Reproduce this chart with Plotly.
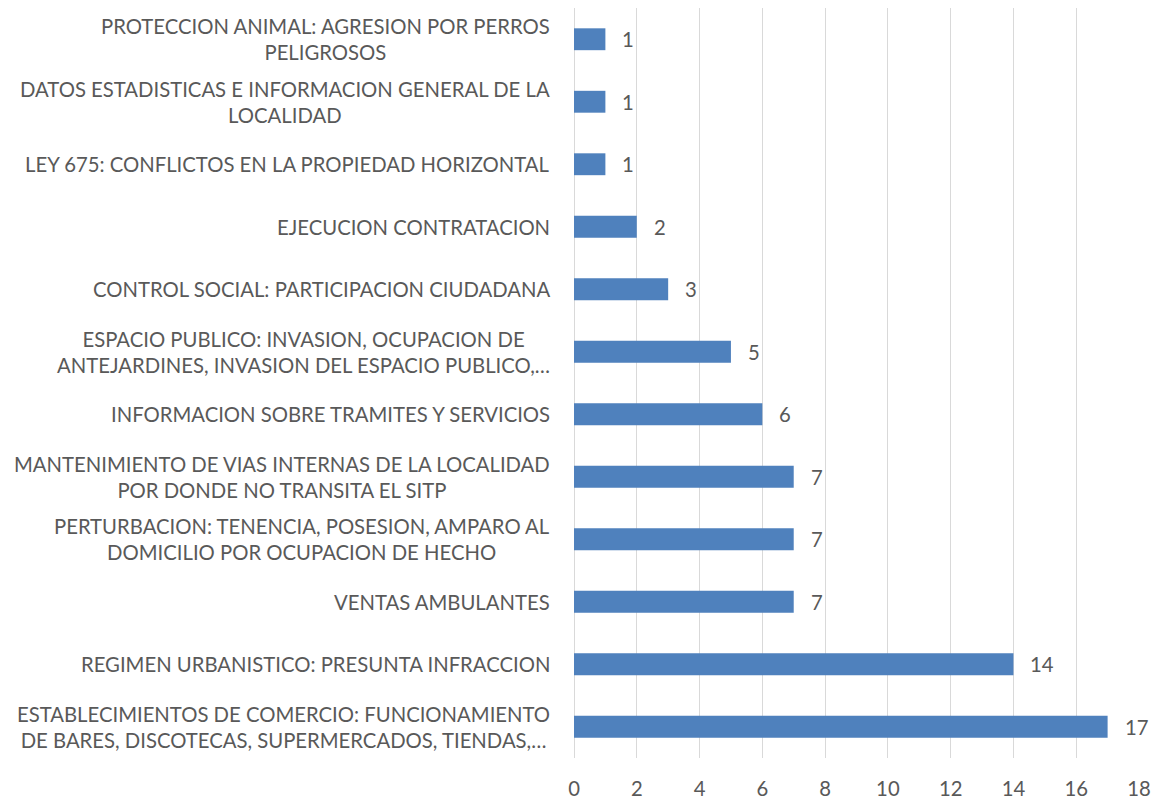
import plotly.graph_objects as go

categories = [
    "ESTABLECIMIENTOS DE COMERCIO: FUNCIONAMIENTO<br>DE BARES, DISCOTECAS, SUPERMERCADOS, TIENDAS,…",
    "REGIMEN URBANISTICO: PRESUNTA INFRACCION",
    "VENTAS AMBULANTES",
    "PERTURBACION: TENENCIA, POSESION, AMPARO AL<br>DOMICILIO POR OCUPACION DE HECHO",
    "MANTENIMIENTO DE VIAS INTERNAS DE LA LOCALIDAD<br>POR DONDE NO TRANSITA EL SITP",
    "INFORMACION SOBRE TRAMITES Y SERVICIOS",
    "ESPACIO PUBLICO: INVASION, OCUPACION DE<br>ANTEJARDINES, INVASION DEL ESPACIO PUBLICO,…",
    "CONTROL SOCIAL: PARTICIPACION CIUDADANA",
    "EJECUCION CONTRATACION",
    "LEY 675: CONFLICTOS EN LA PROPIEDAD HORIZONTAL",
    "DATOS ESTADISTICAS E INFORMACION GENERAL DE LA<br>LOCALIDAD",
    "PROTECCION ANIMAL: AGRESION POR PERROS<br>PELIGROSOS",
]
values = [17, 14, 7, 7, 7, 6, 5, 3, 2, 1, 1, 1]
x_ticks = [0, 2, 4, 6, 8, 10, 12, 14, 16, 18]

FONT = "Lato"
FS = 20.3
GRAY = "#595959"
ids = list(range(len(categories)))

fig = go.Figure()
fig.add_trace(go.Bar(
    x=values, y=ids, orientation="h",
    marker=dict(color="#4F81BD", line=dict(width=0)),
    hoverinfo="x",
))

annotations = []
for i, (c, v) in enumerate(zip(categories, values)):
    annotations.append(dict(
        x=0, y=i, xref="paper", yref="y", text=c, showarrow=False,
        xanchor="right", yanchor="middle", align="center", xshift=-22,
        font=dict(family=FONT, size=FS, color=GRAY),
    ))
    annotations.append(dict(
        x=v, y=i, xref="x", yref="y", text=str(v), showarrow=False,
        xanchor="left", yanchor="middle", xshift=15,
        font=dict(family=FONT, size=FS, color=GRAY),
    ))

fig.update_layout(
    width=1152, height=799,
    margin=dict(l=574, r=13, t=8, b=41, autoexpand=False),
    paper_bgcolor="white", plot_bgcolor="white",
    bargap=0.65, showlegend=False,
    font=dict(family=FONT, size=FS, color=GRAY),
    annotations=annotations,
    xaxis=dict(range=[0, 18], tickvals=x_ticks, showgrid=True, gridcolor="#D9D9D9",
               gridwidth=1, zeroline=True, zerolinecolor="#D9D9D9", zerolinewidth=1,
               showline=False, ticks="", ticklabelstandoff=17, automargin=False,
               tickfont=dict(size=FS, color=GRAY)),
    yaxis=dict(range=[-0.5, len(categories) - 0.5], showticklabels=False, showgrid=False,
               zeroline=False, showline=False, ticks="", automargin=False),
)

fig.write_html(
    "out.html",
    config={"displayModeBar": False},
    post_script="document.body.style.margin='0px';document.body.style.overflow='hidden';",
)
